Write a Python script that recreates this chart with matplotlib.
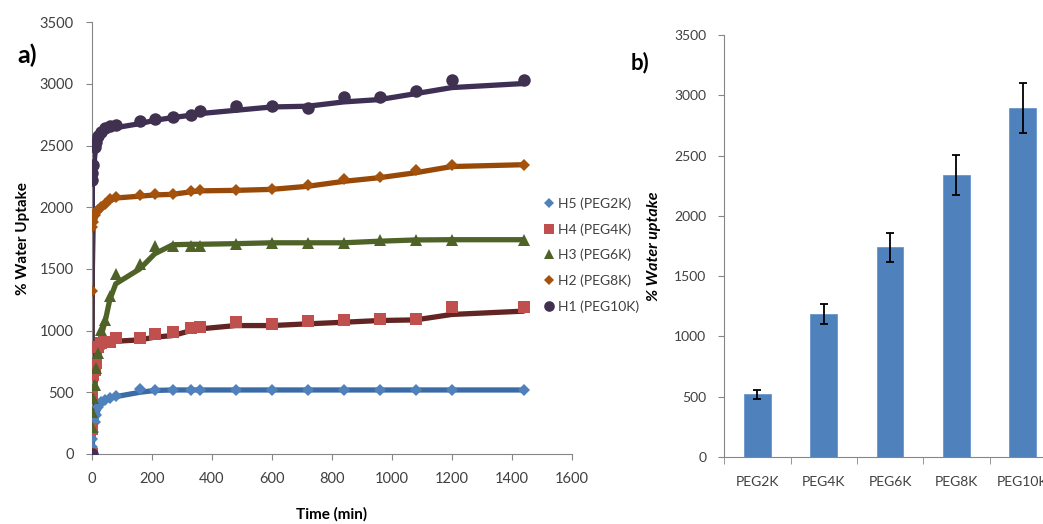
import matplotlib
matplotlib.use("Agg")
import matplotlib.pyplot as plt
from matplotlib.ticker import MultipleLocator, FixedLocator
import numpy as np

plt.rcParams['font.family'] = ['Lato', 'DejaVu Sans']

# time points (min)
time = [0, 1, 2, 5, 10, 15, 20, 30, 45, 60, 80, 160, 210, 270, 330, 360,
        480, 600, 720, 840, 960, 1080, 1200, 1440]

# measured % water uptake (markers)
h5 = [0, 60, 120, 180, 260, 320, 380, 420, 440, 455, 473, 525, 520, 520, 520, 520,
      520, 520, 520, 520, 520, 520, 520, 520]
h4 = [0, 200, 480, 640, 680, 740, 870, 900, 910, 906, 941, 941, 974, 987, 1020, 1028,
      1068, 1050, 1077, 1087, 1095, 1095, 1190, 1190]
h3 = [0, 220, 340, 450, 560, 700, 818, 1004, 1085, 1280, 1461, 1542, 1690, 1690, 1690, 1683,
      1704, 1712, 1712, 1712, 1731, 1737, 1737, 1737]
h2 = [0, 1320, 1840, 1880, 1940, 1960, 1980, 2000, 2030, 2064, 2083, 2096, 2105, 2105, 2132, 2137,
      2137, 2145, 2178, 2226, 2245, 2300, 2340, 2345]
h1 = [0, 2220, 2280, 2340, 2490, 2530, 2580, 2610, 2640, 2662, 2667, 2700, 2719, 2732, 2746, 2778,
      2819, 2824, 2805, 2894, 2894, 2943, 3030, 3030]

# trend lines
h5_fit = [0, 30, 90, 150, 220, 290, 350, 400, 430, 450, 465, 500, 515, 519, 519, 519,
          519, 519, 519, 519, 519, 519, 519, 519]
h4_fit = [0, 100, 300, 550, 650, 720, 790, 850, 880, 900, 914, 925, 947, 960, 1000, 1014,
          1041, 1041, 1055, 1068, 1082, 1087, 1131, 1158]
h3_fit = [0, 150, 300, 420, 540, 660, 780, 950, 1080, 1250, 1380, 1500, 1623, 1696, 1700, 1700,
          1705, 1712, 1712, 1712, 1725, 1735, 1737, 1737]
h2_fit = [0, 700, 1500, 1860, 1900, 1940, 1960, 1990, 2010, 2050, 2075, 2090, 2100, 2105, 2125, 2133,
          2137, 2145, 2170, 2210, 2240, 2280, 2330, 2345]
h1_fit = [0, 1100, 2200, 2260, 2420, 2500, 2560, 2600, 2625, 2637, 2645, 2678, 2705, 2727, 2746, 2759,
          2786, 2813, 2819, 2854, 2873, 2921, 2970, 3003]

labels = ['H5 (PEG2K)', 'H4 (PEG4K)', 'H3 (PEG6K)', 'H2 (PEG8K)', 'H1 (PEG10K)']

# panel b
peg = ['PEG2K', 'PEG4K', 'PEG6K', 'PEG8K', 'PEG10K']
uptake = [518, 1187, 1740, 2338, 2894]
uptake_err = [37, 86, 122, 166, 205]

grey = '#868686'
txt = '#404040'

fig = plt.figure(figsize=(10.43, 5.24), dpi=100)

# ---- panel a ----
ax = fig.add_axes([0.088, 0.1336, 0.460, 0.824])
series = [
    (h5, h5_fit, 'D', '#4F81BD', '#3B6BA5', 6.5),
    (h4, h4_fit, 's', '#C0504D', '#632523', 8),
    (h3, h3_fit, '^', '#4F6228', '#4F6228', 8.5),
    (h2, h2_fit, 'D', '#A5520C', '#984807', 6.5),
    (h1, h1_fit, 'o', '#403151', '#3E2F55', 9),
]
handles = []
for (y, yf, m, mc, lc, ms), lab in zip(series, labels):
    ax.plot(time, yf, color=lc, lw=3.8, solid_capstyle='round', zorder=2)
    h, = ax.plot(time, y, linestyle='none', marker=m, color=mc, ms=ms,
                 markeredgewidth=0, zorder=3, label=lab)
    handles.append(h)

ax.set_xlim(0, 1600)
ax.set_ylim(0, 3500)
ax.xaxis.set_major_locator(MultipleLocator(200))
ax.yaxis.set_major_locator(MultipleLocator(500))
for s in ['top', 'right']:
    ax.spines[s].set_visible(False)
for s in ['left', 'bottom']:
    ax.spines[s].set_color(grey)
ax.tick_params(axis='both', colors=grey, labelcolor=txt, labelsize=10.5, length=4, direction='out')
ax.tick_params(axis='x', pad=9)
ax.tick_params(axis='y', pad=9)
ax.set_xlabel('Time (min)', fontsize=11, fontweight='bold', labelpad=15)
ax.set_ylabel('% Water Uptake', fontsize=11, fontweight='bold', labelpad=7)
fig.text(27 / 1043, 1 - 55 / 524, 'a)', fontsize=18, fontweight='bold', ha='center', va='center')

leg = fig.legend(handles=handles, loc='center left', bbox_to_anchor=(545 / 1043, 1 - 255 / 524),
                 frameon=False, fontsize=10, labelspacing=0.95, handlelength=0.6,
                 handletextpad=0.3, borderaxespad=0, borderpad=0, markerscale=0.85)
for t in leg.get_texts():
    t.set_color(txt)

# ---- panel b ----
bx = fig.add_axes([0.6944, 0.128, 0.318, 0.805])
pos = np.arange(len(peg))
bx.bar(pos, uptake, width=0.4, color='#4F81BD', edgecolor='#6A96CC', linewidth=0.6, zorder=2)
bx.errorbar(pos, uptake, yerr=uptake_err, fmt='none', ecolor='black', elinewidth=1.3,
            capsize=3, capthick=1.3, zorder=3)
bx.set_xlim(-0.5, len(peg) - 0.5)
bx.set_ylim(0, 3500)
bx.yaxis.set_major_locator(MultipleLocator(500))
bx.set_xticks(pos)
bx.set_xticklabels(peg)
bx.xaxis.set_minor_locator(FixedLocator(np.arange(len(peg)) - 0.5))
bx.tick_params(axis='x', which='major', length=0, pad=14)
bx.tick_params(axis='x', which='minor', length=5, color=grey)
bx.tick_params(axis='both', colors=grey, labelcolor=txt, labelsize=10)
bx.tick_params(axis='y', length=4, pad=9)
for s in ['top', 'right']:
    bx.spines[s].set_visible(False)
for s in ['left', 'bottom']:
    bx.spines[s].set_color(grey)
bx.set_ylabel('% Water uptake', fontsize=11.5, fontweight='bold', style='italic', labelpad=9)
fig.text(640 / 1043, 1 - 63 / 524, 'b)', fontsize=16, fontweight='bold', ha='center', va='center')

fig.savefig('out.png', dpi=100)
